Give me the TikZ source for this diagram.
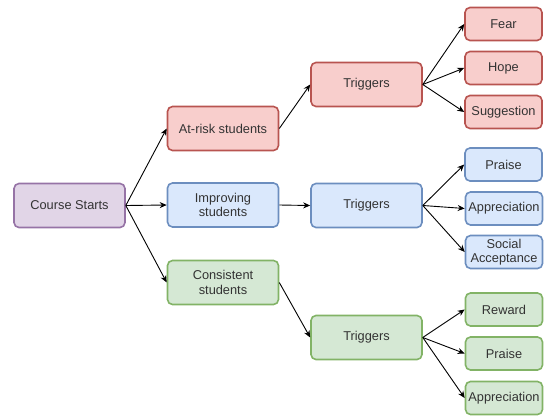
\documentclass[tikz,border=0pt]{standalone}
\usepackage{fontspec}
\setmainfont{Liberation Sans}
\usetikzlibrary{arrows.meta}
\definecolor{redf}{HTML}{F8CECC}\definecolor{redd}{HTML}{B85450}
\definecolor{bluef}{HTML}{DAE8FC}\definecolor{blued}{HTML}{6C8EBF}
\definecolor{greenf}{HTML}{D5E8D4}\definecolor{greend}{HTML}{82B366}
\definecolor{purf}{HTML}{E1D5E7}\definecolor{purd}{HTML}{9673A6}
\definecolor{txt}{HTML}{333333}
\tikzset{
  box/.style={draw, line width=1.6pt, rounded corners=5pt, inner sep=0pt, align=center,
    font=\fontsize{12.8}{14.5}\selectfont, text=txt},
  bigbox/.style={box, minimum width=111pt, minimum height=44pt},
  leaf/.style={box, minimum width=77pt, minimum height=33pt},
  rd/.style={fill=redf, draw=redd},
  bl/.style={fill=bluef, draw=blued},
  gr/.style={fill=greenf, draw=greend},
  pu/.style={fill=purf, draw=purd},
  arr/.style={-{Stealth[length=7pt,width=6pt]}, line width=0.9pt, black},
}
\begin{document}
\begin{tikzpicture}[x=1pt,y=-1pt]
\useasboundingbox (0,0) rectangle (547,416);
\node[bigbox,pu] (cs) at (69.5,205.5) {Course Starts};
\node[bigbox,rd] (ar) at (223,128.5) {At-risk students};
\node[bigbox,bl] (im) at (223,205) {Improving\\students};
\node[bigbox,gr] (co) at (223,282.5) {Consistent\\students};
\node[bigbox,rd] (tr) at (366.5,84.5) {Triggers};
\node[bigbox,bl] (tb) at (366.5,205.5) {Triggers};
\node[bigbox,gr] (tg) at (366.5,337.5) {Triggers};
\node[leaf,rd] (fear) at (503.5,24) {Fear};
\node[leaf,rd] (hope) at (503.5,68) {Hope};
\node[leaf,rd] (sug) at (503.5,112) {Suggestion};
\node[leaf,bl] (pr1) at (503.5,164.5) {Praise};
\node[leaf,bl] (ap1) at (504,208.5) {Appreciation};
\node[leaf,bl] (soc) at (504,252) {Social\\Acceptance};
\node[leaf,gr] (rew) at (504,309.5) {Reward};
\node[leaf,gr] (pr2) at (504,353.5) {Praise};
\node[leaf,gr] (ap2) at (504,398) {Appreciation};
\draw[arr] (cs.east) -- (ar.west);
\draw[arr] (cs.east) -- (im.west);
\draw[arr] (cs.east) -- (co.west);
\draw[arr] (ar.east) -- (tr.west);
\draw[arr] (im.east) -- (tb.west);
\draw[arr] (co.east) -- (tg.west);
\draw[arr] (tr.east) -- (fear.west);
\draw[arr] (tr.east) -- (hope.west);
\draw[arr] (tr.east) -- (sug.west);
\draw[arr] (tb.east) -- (pr1.west);
\draw[arr] (tb.east) -- (ap1.west);
\draw[arr] (tb.east) -- (soc.west);
\draw[arr] (tg.east) -- (rew.west);
\draw[arr] (tg.east) -- (pr2.west);
\draw[arr] (tg.east) -- (ap2.west);
\end{tikzpicture}
\end{document}
